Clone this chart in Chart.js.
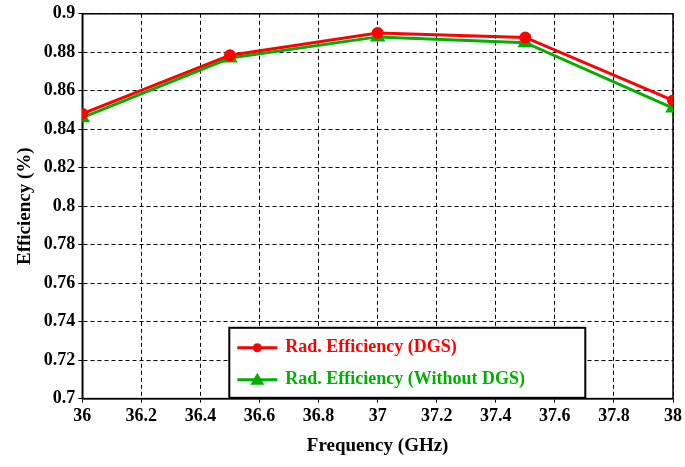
<!DOCTYPE html>
<html><head><meta charset="utf-8">
<script src="https://cdn.jsdelivr.net/npm/chart.js@4/dist/chart.umd.min.js"></script>
<style>html,body{margin:0;padding:0;background:#fff}#w{width:685px;height:467px}</style>
</head><body><div id="w"><canvas id="c"></canvas></div>
<script>
const freqs = [36, 36.5, 37, 37.5, 38];
const dgs = [0.848, 0.8785, 0.890, 0.8877, 0.855];
const noDgs = [0.846, 0.877, 0.888, 0.885, 0.851];
const seriesNames = ['Rad. Efficiency (DGS)', 'Rad. Efficiency (Without DGS)'];
const F = 'bold 18px "Liberation Serif"';
const legendPlugin = {
  id: 'boxLegend',
  afterDraw(chart) {
    const ctx = chart.ctx, a = chart.chartArea;
    const x0 = a.left + 147, y0 = a.top + 314, w = 356, h = 70;
    ctx.save();
    ctx.fillStyle = '#fff'; ctx.fillRect(x0, y0, w, h);
    ctx.strokeStyle = '#000'; ctx.lineWidth = 2; ctx.strokeRect(x0, y0, w, h);
    chart.data.datasets.forEach((ds, i) => {
      const y = y0 + 20 + i * 32;
      ctx.strokeStyle = ds.borderColor; ctx.lineWidth = 3;
      ctx.beginPath(); ctx.moveTo(x0 + 8, y); ctx.lineTo(x0 + 48, y); ctx.stroke();
      ctx.fillStyle = ds.borderColor;
      ctx.beginPath();
      if (i === 0) ctx.arc(x0 + 28, y, 4.5, 0, Math.PI * 2);
      else { ctx.moveTo(x0 + 28, y - 7); ctx.lineTo(x0 + 35, y + 5); ctx.lineTo(x0 + 21, y + 5); ctx.closePath(); }
      ctx.fill();
      ctx.font = F; ctx.textBaseline = 'middle';
      ctx.fillText(ds.label, x0 + 56, y);
    });
    ctx.restore();
  }
};
const tickFont = { family: 'Liberation Serif', weight: 'bold', size: 18 };
new Chart(document.getElementById('c'), {
  type: 'line',
  data: { datasets: [
    { label: seriesNames[0], data: freqs.map((x, i) => ({x, y: dgs[i]})), borderColor: '#ff0000', backgroundColor: '#ff0000', borderWidth: 3, pointStyle: 'circle', pointRadius: 4.5 },
    { label: seriesNames[1], data: freqs.map((x, i) => ({x, y: noDgs[i]})), borderColor: '#00b000', backgroundColor: '#00b000', borderWidth: 3, pointStyle: 'triangle', pointRadius: 6 }
  ]},
  options: {
    responsive: true, maintainAspectRatio: false, animation: false,
    layout: { padding: { top: 0, right: 10, left: 10, bottom: 6 } },
    plugins: { legend: { display: false }, tooltip: { enabled: false } },
    scales: {
      x: { type: 'linear', min: 36, max: 38,
        ticks: { stepSize: 0.2, color: '#000', font: tickFont, callback: v => +v.toFixed(1) },
        grid: { color: '#000', lineWidth: 1, tickLength: 4 }, border: { color: '#000', width: 1.5, dash: [4, 3] },
        title: { display: true, text: 'Frequency (GHz)', color: '#000', font: { family: 'Liberation Serif', weight: 'bold', size: 19 } } },
      y: { min: 0.7, max: 0.9,
        ticks: { stepSize: 0.02, color: '#000', font: tickFont, callback: v => +v.toFixed(2) },
        grid: { color: '#000', lineWidth: 1, tickLength: 4 }, border: { color: '#000', width: 1.5, dash: [4, 3] },
        title: { display: true, text: 'Efficiency (%)', color: '#000', font: { family: 'Liberation Serif', weight: 'bold', size: 19 } } }
    }
  },
  plugins: [legendPlugin, {
    id: 'frame',
    beforeDatasetsDraw(chart) {
      const ctx = chart.ctx, a = chart.chartArea;
      ctx.save(); ctx.strokeStyle = '#000'; ctx.lineWidth = 1.5;
      ctx.strokeRect(a.left, a.top, a.right - a.left, a.bottom - a.top); ctx.restore();
    }
  }]
});
</script></body></html>
